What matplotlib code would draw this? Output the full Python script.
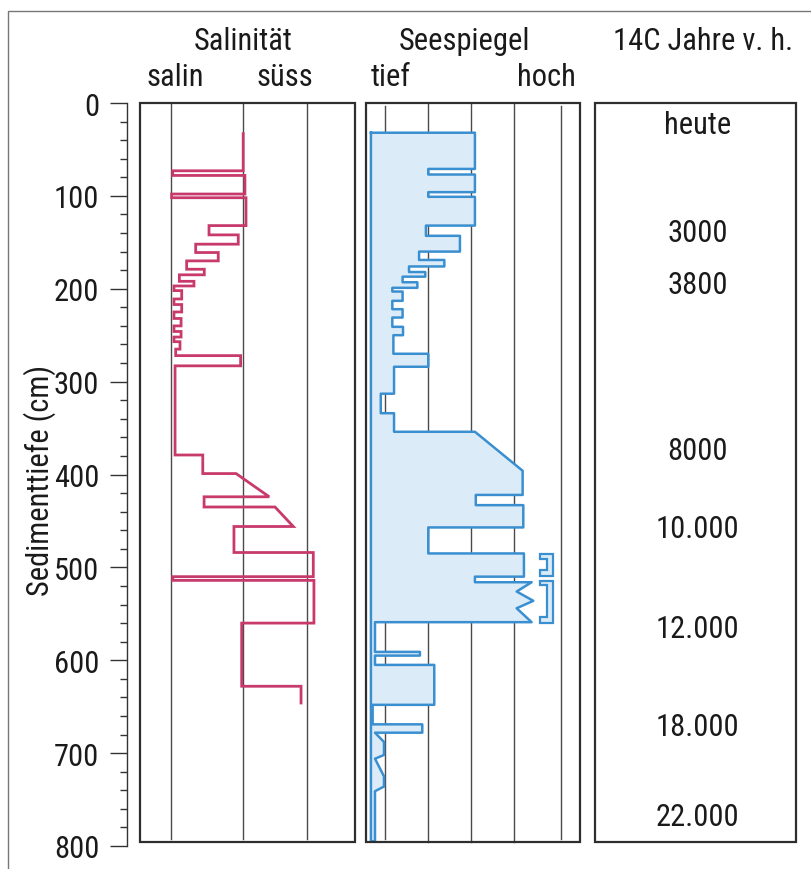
import matplotlib
matplotlib.use("Agg")
import matplotlib.pyplot as plt
from matplotlib.patches import Rectangle, Polygon

plt.rcParams['font.family'] = ['Roboto Condensed', 'Liberation Sans', 'DejaVu Sans']

# ---------------- data ----------------
# Salinity curve vertices (0 = salin ... 100 = süss, arbitrary units), depth in cm
sal_x = [48.0, 48.0, 15.2, 15.2, 48.8, 48.8, 14.7, 14.7, 49.3, 49.3, 32.1, 32.1,
         45.7, 45.7, 25.9, 25.9, 36.4, 36.4, 21.7, 21.7, 29.9, 29.9, 18.3, 18.3,
         25.1, 25.1, 15.8, 15.8, 19.4, 19.4, 15.8, 15.8, 19.4, 19.4, 15.8, 15.8,
         19.1, 19.1, 15.8, 15.8, 19.1, 19.1, 15.8, 15.8, 18.6, 18.6, 16.6, 16.6,
         46.8, 46.8, 16.3, 16.3, 29.2, 29.2, 44.7, 60.1, 29.8, 29.8, 62.8, 71.3,
         43.7, 43.7, 80.6, 80.6, 15.2, 15.2, 80.9, 80.9, 47.3, 47.3, 74.9, 74.9]
sal_depth = [33, 73, 73, 78, 78, 98, 98, 102, 102, 132, 132, 142,
             142, 152, 152, 161, 161, 170, 170, 179, 179, 185, 185, 192,
             192, 197, 197, 202, 202, 211, 211, 217, 217, 225, 225, 232,
             232, 240, 240, 246, 246, 252, 252, 257, 257, 265, 265, 272,
             272, 283, 283, 379, 379, 399, 399, 424, 424, 435, 435, 456,
             456, 484, 484, 510, 510, 514, 514, 560, 560, 628, 628, 646]

# Lake level curve vertices (0 = tief ... 100 = hoch, arbitrary units)
lake_x = [2.3, 50.9, 50.9, 29.1, 29.1, 50.9, 50.9, 29.1, 29.1, 50.9, 50.9, 28.0,
          28.0, 43.9, 43.9, 24.8, 24.8, 36.6, 36.6, 20.1, 20.1, 27.7, 27.7, 17.1,
          17.1, 24.0, 24.0, 12.3, 12.3, 17.1, 17.1, 12.3, 12.3, 17.1, 17.1, 12.3,
          12.3, 17.3, 17.3, 12.8, 12.8, 29.1, 29.1, 13.1, 13.1, 6.9, 6.9, 13.1,
          13.1, 50.9, 73.2, 73.2, 51.3, 51.3, 73.5, 73.5, 29.1, 29.1, 73.8, 73.8,
          50.9, 50.9, 77.4, 70.4, 78.2, 70.4, 77.4, 4.2, 4.2, 25.2, 25.2, 4.2,
          4.2, 31.9, 31.9, 3.1, 3.1, 26.3, 26.3, 4.2, 8.4, 8.4, 4.2, 8.4,
          8.4, 4.2, 4.2]
lake_depth = [32, 32, 71, 71, 77, 77, 96, 96, 101, 101, 132, 132,
              143, 143, 160, 160, 169, 169, 176, 176, 182, 182, 187, 187,
              193, 193, 199, 199, 203, 203, 213, 213, 222, 222, 231, 231,
              241, 241, 250, 250, 270, 270, 284, 284, 313, 313, 334, 334,
              354, 354, 396, 422, 422, 433, 433, 457, 457, 485, 485, 510,
              510, 516, 516, 526, 536, 544, 559, 559, 591, 591, 595, 595,
              605, 605, 648, 648, 669, 669, 678, 678, 688, 702, 706, 725,
              736, 741, 795]

# Uncertainty brackets beside the lake curve
br1_x = [81.3, 87.3, 87.3, 81.3, 81.3, 84.6, 84.6, 81.3]
br1_depth = [486, 486, 509, 509, 503, 503, 491, 491]
br2_x = [81.3, 87.3, 87.3, 81.3, 81.3, 84.6, 84.6, 81.3]
br2_depth = [515, 515, 560, 560, 553, 553, 519, 519]

# Radiocarbon ages (labels) and their depths
age_labels = ["heute", "3000", "3800", "8000", "10.000", "12.000", "18.000", "22.000"]
age_depth = [23, 139, 195, 374, 458, 566, 671, 768]

sal_grid = [14.4, 48.1, 77.9]
lake_grid_full = [29.0, 49.1, 69.2]
lake_grid_short = [8.9, 91.1]
lake_left = 2.3

# ---------------- figure ----------------
W, H = 811, 870
fig = plt.figure(figsize=(W / 100, H / 100), dpi=100)

TOP, BOT = 104, 847          # pixel rows of depth 0 and 800
BOX_BOTTOM = 795.5           # depth at which panel boxes end

def add_ax(x0, x1):
    return fig.add_axes([x0 / W, 1 - BOT / H, (x1 - x0) / W, (BOT - TOP) / H])

edge = '#2e2e2e'
grid_c = '#4a4a4a'
sal_c = '#c83a6c'
lake_c = '#3a8fd0'
fill_c = '#dcebf8'
txt_c = '#1a1a1a'
fs = 22

# y axis
axy = add_ax(127, 140)
axy.set_ylim(800, 0)
axy.set_xlim(0, 1)
for s in ['top', 'right', 'bottom']:
    axy.spines[s].set_visible(False)
axy.spines['left'].set_color('#333333')
axy.spines['left'].set_linewidth(1.0)
axy.set_xticks([])
axy.set_yticks(range(0, 801, 100))
axy.set_yticks(range(0, 801, 20), minor=True)
axy.tick_params(axis='y', which='major', length=12, width=1.0, color='#333333',
                labelsize=fs, pad=8, labelcolor=txt_c)
axy.tick_params(axis='y', which='minor', length=5, width=1.0, color='#333333')
axy.patch.set_alpha(0)
fig.text(40 / W, 1 - 480 / H, "Sedimenttiefe (cm)", rotation=90, ha='center',
         va='center', fontsize=fs, color=txt_c)

def setup_panel(ax):
    ax.set_ylim(800, 0)
    ax.set_xlim(0, 100)
    ax.axis('off')
    ax.add_patch(Rectangle((0, 0), 100, BOX_BOTTOM, fill=False, edgecolor=edge,
                           linewidth=1.6, zorder=5, clip_on=False))

# Salinity panel
ax1 = add_ax(140, 355)
setup_panel(ax1)
for g in sal_grid:
    ax1.plot([g, g], [0, BOX_BOTTOM - 3], color=grid_c, lw=1.0, zorder=1)
ax1.plot(sal_x, sal_depth, color=sal_c, lw=2.0, zorder=3, solid_joinstyle='miter')

# Lake level panel
ax2 = add_ax(366, 580)
setup_panel(ax2)
for g in lake_grid_full:
    ax2.plot([g, g], [0, BOX_BOTTOM], color=grid_c, lw=1.0, zorder=1)
for g in lake_grid_short:
    ax2.plot([g, g], [3, BOX_BOTTOM - 3], color=grid_c, lw=1.0, zorder=1)
poly = list(zip(lake_x, lake_depth)) + [(lake_left, lake_depth[-1])]
ax2.add_patch(Polygon(poly, closed=True, facecolor=fill_c, edgecolor='none', zorder=2))
ax2.plot(lake_x + [lake_left, lake_left], lake_depth + [lake_depth[-1], lake_depth[0]],
         color=lake_c, lw=1.8, zorder=3)
for bx, bd in [(br1_x, br1_depth), (br2_x, br2_depth)]:
    ax2.add_patch(Polygon(list(zip(bx, bd)), closed=True, facecolor=fill_c,
                          edgecolor=lake_c, lw=1.6, zorder=3))

# Age panel
ax3 = add_ax(595, 796)
setup_panel(ax3)
for lab, d in zip(age_labels, age_depth):
    ax3.text(51, d, lab, ha='center', va='center', fontsize=fs, color=txt_c)

# Headers
hdr = [("Salinität", 243, 42), ("salin", 175, 77), ("süss", 285, 77),
       ("Seespiegel", 465, 42), ("tief", 391, 77), ("hoch", 546, 77),
       ("14C Jahre v. h.", 703, 42)]
for t, x, y in hdr:
    fig.text(x / W, 1 - y / H, t, ha='center', va='center', fontsize=fs, color=txt_c)

# Outer frame (cropped at right and bottom)
fig.add_artist(Rectangle((8 / W, -0.05), 1.2, 1 - 12 / H + 0.05, transform=fig.transFigure,
                         fill=False, edgecolor='#777777', linewidth=1.0))

fig.savefig("out.png", dpi=100)
